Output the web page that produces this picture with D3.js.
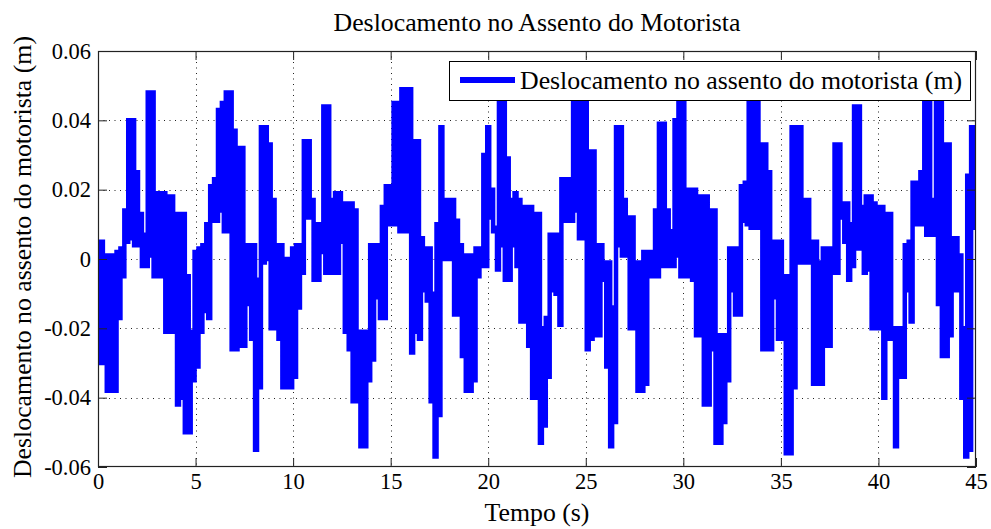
<!DOCTYPE html>
<html><head><meta charset="utf-8">
<script src="https://cdn.jsdelivr.net/npm/d3@7/dist/d3.min.js"></script>
<style>
body{margin:0;background:#fff}
svg{display:block}
text{font-family:"Liberation Serif","Times New Roman",serif;fill:#000}
</style>
</head><body>
<svg id="chart" width="991" height="529"></svg>
<script>
// ---- data ----
const chartTitle = "Deslocamento no Assento do Motorista";
const xLabel = "Tempo (s)";
const yLabel = "Deslocamento no assento do motorista (m)";
const legendLabel = "Deslocamento no assento do motorista (m)";
const xTicks = [0, 5, 10, 15, 20, 25, 30, 35, 40, 45];
const yTicks = [-0.06, -0.04, -0.02, 0, 0.02, 0.04, 0.06];
const yTickLabels = ["-0.06", "-0.04", "-0.02", "0", "0.02", "0.04", "0.06"];
const sampleStep = 0.1; // s between samples
// seat displacement in millimetres, one value per 0.1 s (rows = 1 s)
const seatDisplacementMM = [
  4,-30,5,-30,1,-38,1,-38,1,-38,
  2,-17,3,-5,14,5,40,6,40,4,
  25,4,13,-2,7,-2,48,1,48,-5,
  19,-5,19,-5,19,-21,18,-21,18,-21,
  13,-42,13,-40,13,-50,-5,-50,-21,-35,
  2,-31,3,-21,4,-15,10,-17,21,11,
  23,11,43,14,45,8,48,8,48,-26,
  37,-26,32,-25,32,-25,4,-13,4,-23,
  4,-55,-6,-37,38,-1,38,0,33,-20,
  17,-20,4,-23,4,-37,0,-37,0,-37,
  3,-34,4,-14,4,-4,34,12,34,12,
  17,-6,10,-6,10,2,44,-4,44,-4,
  17,-4,19,-4,19,5,16,-21,16,-26,
  16,-41,14,-41,-21,-54,-21,-54,-21,-35,
  4,-29,4,-11,4,-17,15,-17,21,10,
  21,10,45,10,45,8,49,8,49,8,
  49,-27,34,-21,34,-23,6,-9,3,-12,
  3,-41,-10,-57,10,-45,38,0,17,0,
  17,0,17,-16,11,-16,4,-28,1,-38,
  1,-38,1,-35,3,-5,3,-2,30,-2,
  38,12,20,8,9,-3,49,4,49,-6,
  29,-6,17,4,19,-2,17,-18,15,-18,
  15,-25,15,-40,13,-40,13,-53,-20,-48,
  -17,-34,7,-9,7,-10,7,-19,23,11,
  23,11,23,11,45,14,45,6,49,6,
  49,-26,31,-23,31,-22,4,-22,4,-6,
  -1,-31,-1,-54,-14,-47,38,4,38,1,
  17,1,12,-20,12,-20,-1,-38,-1,-38,
  2,-36,2,-5,2,-5,14,-5,39,-2,
  39,-2,14,-2,8,-2,40,1,48,-5,
  48,-5,20,-5,20,-6,20,-22,18,-22,
  18,-42,18,-42,14,-26,14,-53,-22,-53,
  -22,-47,-22,-35,3,-9,3,-16,3,-16,
  21,11,22,10,45,9,45,9,48,9,
  33,-26,33,-26,25,-26,5,-11,5,-23,
  5,-23,-5,-56,-5,-56,38,-37,38,-1,
  38,-1,17,-1,17,-1,5,-36,5,-36,
  -1,-36,3,-25,3,-25,3,-4,33,-4,
  33,12,16,5,16,-6,10,-2,44,3,
  44,3,15,-4,18,-3,18,-20,16,-20,
  15,-20,15,-40,13,-23,13,-23,-20,-54,
  -20,-34,-20,-34,4,-9,5,-18,22,10,
  22,10,25,10,45,7,45,7,17,7,
  46,-13,46,-28,33,-28,33,-22,6,-9,
  6,-9,1,-40,-20,-57,24,-55,38,9,
  30
];

// ---- layout ----
const W = 991, H = 529;
const plot = {left: 98, right: 976, top: 51, bottom: 467};
const svg = d3.select("#chart");
svg.append("rect").attr("width", W).attr("height", H).attr("fill", "#fff");

const x = d3.scaleLinear().domain([0, 45]).range([plot.left, plot.right]);
const y = d3.scaleLinear().domain([-0.06, 0.06]).range([plot.bottom, plot.top]);

const series = seatDisplacementMM.map((v, i) => ({t: i * sampleStep, v: v / 1000}));

// grid (dotted)
const grid = svg.append("g").attr("stroke", "#222").attr("stroke-width", 1)
  .attr("stroke-dasharray", "1,4.5").attr("fill", "none");
xTicks.filter(d => d > 0 && d < 45).forEach(d => {
  const px = Math.round(x(d)) + 0.5;
  grid.append("line").attr("x1", px).attr("x2", px).attr("y1", plot.top).attr("y2", plot.bottom);
});
yTicks.filter(d => d > -0.06 && d < 0.06).forEach(d => {
  const py = Math.round(y(d)) + 0.5;
  grid.append("line").attr("x1", plot.left).attr("x2", plot.right).attr("y1", py).attr("y2", py);
});

// clip
svg.append("clipPath").attr("id", "clip").append("rect")
  .attr("x", plot.left).attr("y", plot.top)
  .attr("width", plot.right - plot.left).attr("height", plot.bottom - plot.top);

const line = d3.line().curve(d3.curveStep).x(d => x(d.t)).y(d => y(d.v));
svg.append("path").datum(series)
  .attr("clip-path", "url(#clip)")
  .attr("d", line)
  .attr("fill", "none").attr("stroke", "#0000ff")
  .attr("stroke-width", 4.5).attr("stroke-linejoin", "miter");

// axes box + inward ticks via d3 axes
const tickLen = 9;
const axB = d3.axisBottom(x).tickValues(xTicks).tickSize(-tickLen).tickPadding(6).tickFormat(d3.format("d"));
const axT = d3.axisTop(x).tickValues(xTicks).tickSize(-tickLen).tickFormat("");
const axL = d3.axisLeft(y).tickValues(yTicks).tickSize(-tickLen).tickPadding(7)
  .tickFormat((d, i) => yTickLabels[i]);
const axR = d3.axisRight(y).tickValues(yTicks).tickSize(-tickLen).tickFormat("");

function styleAxis(g) {
  g.select(".domain").remove();
  g.attr("font-family", null);
  g.selectAll(".tick line").attr("stroke", "#222").attr("stroke-width", 1);
  g.selectAll("text").attr("font-size", 22.5).style("font-family", '"Liberation Serif", serif').attr("fill", "#000");
}
svg.append("g").attr("transform", `translate(0,${plot.bottom})`).call(axB).call(styleAxis)
  .selectAll("text").attr("dy", "0.72em");
svg.append("g").attr("transform", `translate(0,${plot.top})`).call(axT).call(styleAxis);
svg.append("g").attr("transform", `translate(${plot.left},0)`).call(axL).call(styleAxis);
svg.append("g").attr("transform", `translate(${plot.right},0)`).call(axR).call(styleAxis);

svg.append("rect").attr("x", plot.left + 0.5).attr("y", plot.top + 0.5)
  .attr("width", plot.right - plot.left - 1).attr("height", plot.bottom - plot.top - 1)
  .attr("fill", "none").attr("stroke", "#222").attr("stroke-width", 1.2);

// titles
svg.append("text").attr("x", 537).attr("y", 31).attr("text-anchor", "middle")
  .attr("font-size", 25.8).text(chartTitle);
svg.append("text").attr("x", 537).attr("y", 521).attr("text-anchor", "middle")
  .attr("font-size", 25.8).text(xLabel);
svg.append("text").attr("transform", "translate(31,257) rotate(-90)").attr("text-anchor", "middle")
  .attr("font-size", 25.8).text(yLabel);

// legend
const lg = svg.append("g");
lg.append("rect").attr("x", 449.5).attr("y", 61.5).attr("width", 521).attr("height", 39)
  .attr("fill", "#fff").attr("stroke", "#000").attr("stroke-width", 1);
lg.append("line").attr("x1", 460).attr("x2", 515).attr("y1", 80).attr("y2", 80)
  .attr("stroke", "#0000ff").attr("stroke-width", 6);
lg.append("text").attr("x", 520).attr("y", 89).attr("font-size", 25.8).text(legendLabel);
</script>
</body></html>
